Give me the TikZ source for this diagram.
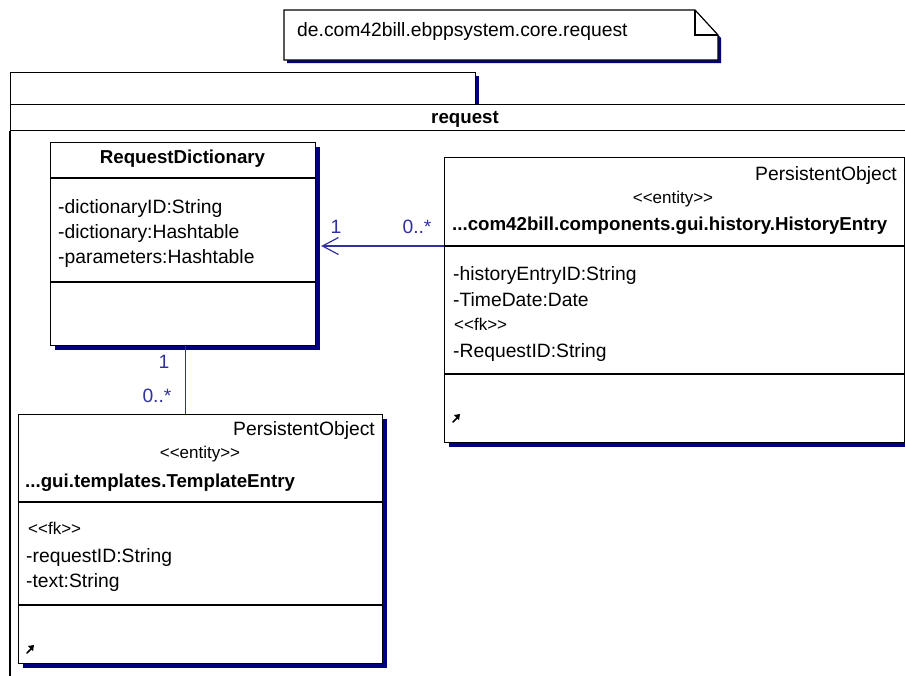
\documentclass[tikz,border=0pt]{standalone}
\usepackage{fontspec}
\newfontfamily\umlfont{Liberation Sans}
\usetikzlibrary{arrows.meta,shadows}
\definecolor{shadownavy}{RGB}{0,0,128}
\definecolor{assoccol}{RGB}{48,48,160}
\newcommand\umlsize{\fontsize{19.3}{22}\selectfont}
\newcommand\umlboldsize{\fontsize{18.7}{22}\selectfont}
\newcommand\stereosize{\fontsize{17}{20}\selectfont}
\tikzset{
  frame/.style={draw=black, line width=1.2pt},
  classbox/.style={frame, fill=white, anchor=north west, inner sep=0pt,
    drop shadow={shadow xshift=4pt, shadow yshift=-4pt, fill=shadownavy, opacity=1}},
  divider/.style={draw=black, line width=1.2pt},
  txt/.style={inner sep=0pt, anchor=base west, font=\umlfont\umlsize},
  rtxt/.style={txt, anchor=base east},
  boldtxt/.style={inner sep=0pt, anchor=base west, font=\umlfont\umlboldsize\bfseries},
  stereo/.style={inner sep=0pt, anchor=base, font=\umlfont\stereosize},
  stereol/.style={stereo, anchor=base west},
  assocline/.style={draw=assoccol, line width=1.2pt},
  mult/.style={inner sep=0pt, anchor=base, text=assoccol, font=\umlfont\umlsize},
  opicon/.style={fill=black, draw=black, line width=1.6pt, line cap=round},
}
\begin{document}
\begin{tikzpicture}[x=1pt,y=-1pt]
\useasboundingbox (0,0) rectangle (905,675);
\begin{scope}
\clip (0,0) rectangle (905,675);

% package note with folded corner
\fill[shadownavy] (287,13) -- (698,13) -- (721,38) -- (721,63) -- (287,63) -- cycle;
\filldraw[frame, fill=white] (284,10) -- (695,10) -- (718,35) -- (718,60) -- (284,60) -- cycle;
\draw[frame] (695,10) -- (695,35) -- (718,35);
\node[txt] (notetext) at (297,36) {de.com42bill.ebppsystem.core.request};

% package frame: tab, name band, body edge
\fill[shadownavy] (475,76) rectangle (479,104);
\node[frame, anchor=north west, minimum width=465, minimum height=32, inner sep=0pt] (pkgtab) at (10,72) {};
\node[frame, anchor=north west, minimum width=920, minimum height=26, inner sep=0pt] (pkgband) at (10,104) {};
\node[boldtxt, anchor=base] (pkgname) at (465,123) {request};
\draw[frame] (pkgband.south west) -- (10,700);

% RequestDictionary
\node[classbox, minimum width=265, minimum height=203] (dict) at (50,142) {};
\draw[divider] (dict.west |- 0,178) -- (dict.east |- 0,178);
\draw[divider] (dict.west |- 0,282) -- (dict.east |- 0,282);
\node[boldtxt, anchor=base] (dictname) at (182.5,163) {RequestDictionary};
\node[txt] (dicta1) at (58,213) {-dictionaryID:String};
\node[txt] (dicta2) at (58,238) {-dictionary:Hashtable};
\node[txt] (dicta3) at (58,263) {-parameters:Hashtable};

% HistoryEntry
\node[classbox, minimum width=460, minimum height=285] (hist) at (444,157) {};
\draw[divider] (hist.west |- 0,246) -- (hist.east |- 0,246);
\draw[divider] (hist.west |- 0,374) -- (hist.east |- 0,374);
\node[rtxt] (histsuper) at (897,180) {PersistentObject};
\node[stereo] (histstereo) at (673,203) {<<entity>>};
\node[boldtxt] (histname) at (452,230) {...com42bill.components.gui.history.HistoryEntry};
\node[txt] (hista1) at (453,280) {-historyEntryID:String};
\node[txt] (hista2) at (453,306) {-TimeDate:Date};
\node[stereol] (hista3) at (454,330) {<<fk>>};
\node[txt] (hista4) at (453,357) {-RequestID:String};
\coordinate (histop) at (453,422);
\draw[opicon] (histop) -- ++(5,-5);
\fill (histop) ++(7,-8) -- ++(-6,1) -- ++(5,5) -- cycle;

% TemplateEntry
\node[classbox, minimum width=364, minimum height=249] (tmpl) at (18,414) {};
\draw[divider] (tmpl.west |- 0,502) -- (tmpl.east |- 0,502);
\draw[divider] (tmpl.west |- 0,605) -- (tmpl.east |- 0,605);
\node[rtxt] (tmplsuper) at (375,435) {PersistentObject};
\node[stereo] (tmplstereo) at (200,458) {<<entity>>};
\node[boldtxt] (tmplname) at (25,487) {...gui.templates.TemplateEntry};
\node[stereol] (tmpla1) at (28,534) {<<fk>>};
\node[txt] (tmpla2) at (26,562) {-requestID:String};
\node[txt] (tmpla3) at (26,587) {-text:String};
\coordinate (tmplop) at (27,653);
\draw[opicon] (tmplop) -- ++(5,-5);
\fill (tmplop) ++(7,-8) -- ++(-6,1) -- ++(5,5) -- cycle;

% associations
\draw[assocline, -{Straight Barb[length=16pt, width=17pt, line width=1.2pt]}]
  (hist.west |- 0,246) -- ([xshift=5pt]dict.east |- 0,246);
\node[mult] (m1) at (336,233) {1};
\node[mult] (m2) at (417,233) {0..*};

\draw[assocline] ([xshift=2.5pt]dict.south) -- ([xshift=2.5pt]dict.south |- tmpl.north);
\node[mult] (m3) at (164,368) {1};
\node[mult] (m4) at (157,402) {0..*};
\end{scope}
\end{tikzpicture}
\end{document}
